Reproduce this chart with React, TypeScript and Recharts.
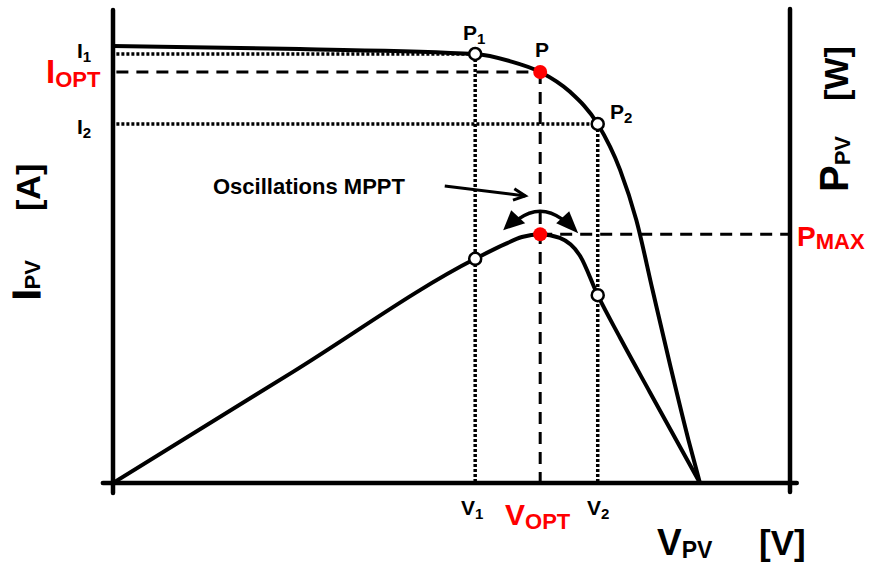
import React from 'react';
import { LineChart, Line, XAxis, YAxis, ReferenceLine, ReferenceDot, Customized } from 'recharts';

// I-V characteristic (voltage in % of axis, current in % of axis)
const ivVoltage = [0, 27.6, 53.5, 58.6, 63.1, 67.5, 71.6, 74.9, 77.3, 79.7, 82.3, 85.0, 86.7];
const ivCurrent = [92.4, 91.75, 90.7, 89.2, 86.9, 82.7, 75.9, 66.2, 55.6, 40.8, 24.9, 9.1, 0];
// P-V characteristic
const pvVoltage = [0, 26.7, 53.5, 57.9, 60.4, 63.1, 66.0, 69.0, 71.6, 74.9, 79.3, 86.7];
const pvPower = [0, 23.6, 47.4, 50.5, 52.0, 52.6, 51.8, 48.0, 39.7, 30.7, 19.2, 0];

// operating points
const V1 = 53.5;
const VOPT = 63.1;
const V2 = 71.6;
const I1 = 90.7;
const IOPT = 86.9;
const I2 = 75.9;
const PV1 = 47.4;
const PMAX = 52.6;
const PV2 = 39.7;

// oscillation annotation arrow (data coords)
const arrowFrom = { x: 49.0, y: 62.8 };
const arrowTo = { x: 60.9, y: 60.7 };

const ivData = ivVoltage.map((v, i) => ({ v, val: ivCurrent[i] }));
const pvData = pvVoltage.map((v, i) => ({ v, val: pvPower[i] }));

const FONT = 'Liberation Sans, Arial, Helvetica, sans-serif';
const RED = '#ff0000';
const DOT = '3 2';
const DASH = '12 8';

const ArrowShape = (p: any) => {
  const { x1, y1, x2, y2 } = p;
  const ang = Math.atan2(y2 - y1, x2 - x1);
  const L = 13;
  const a1 = ang + Math.PI - 0.45;
  const a2 = ang + Math.PI + 0.45;
  return (
    <g>
      <line x1={x1} y1={y1} x2={x2} y2={y2} stroke="#000" strokeWidth={3} />
      <polyline
        points={`${x2 + L * Math.cos(a1)},${y2 + L * Math.sin(a1)} ${x2},${y2} ${x2 + L * Math.cos(a2)},${y2 + L * Math.sin(a2)}`}
        fill="none"
        stroke="#000"
        strokeWidth={3}
        strokeLinejoin="miter"
      />
    </g>
  );
};

const OscShape = (p: any) => {
  const { cx, cy } = p;
  return (
    <g>
      <path d={`M ${cx - 22} ${cy - 15} Q ${cx} ${cy - 31} ${cx + 22} ${cy - 15}`} fill="none" stroke="#000" strokeWidth={3.5} />
      <polygon points={`${cx - 37},${cy - 4} ${cx - 29},${cy - 24} ${cx - 15},${cy - 11}`} fill="#000" />
      <polygon points={`${cx + 38},${cy - 1} ${cx + 29},${cy - 23} ${cx + 16},${cy - 11}`} fill="#000" />
      <circle cx={cx} cy={cy} r={7} fill={RED} />
    </g>
  );
};

const Labels = () => (
  <g fontFamily={FONT} fontWeight="bold">
    <text x={77} y={58} fontSize={21} fill="#000">I<tspan fontSize={15} dy={4}>1</tspan></text>
    <text x={46} y={83} fontSize={33} fill={RED}>I<tspan fontSize={22} dy={4}>OPT</tspan></text>
    <text x={77} y={134} fontSize={21} fill="#000">I<tspan fontSize={15} dy={4}>2</tspan></text>

    <text x={463} y={40} fontSize={21} fill="#000">P<tspan fontSize={15} dy={4}>1</tspan></text>
    <text x={535} y={57} fontSize={21} fill="#000">P</text>
    <text x={610} y={119} fontSize={21} fill="#000">P<tspan fontSize={15} dy={4}>2</tspan></text>

    <text x={213} y={194} fontSize={22} fill="#000">Oscillations MPPT</text>

    <text x={797} y={246} fontSize={28} fill={RED}>P<tspan fontSize={22} dy={3}>MAX</tspan></text>

    <text x={461} y={515} fontSize={21} fill="#000">V<tspan fontSize={15} dy={4}>1</tspan></text>
    <text x={505} y={525} fontSize={30} fill={RED}>V<tspan fontSize={22} dy={4}>OPT</tspan></text>
    <text x={587} y={515} fontSize={21} fill="#000">V<tspan fontSize={15} dy={4}>2</tspan></text>

    <text x={657} y={555} fontSize={37} fill="#000">V<tspan fontSize={23} dy={3}>PV</tspan></text>
    <text x={759} y={555} fontSize={35} fill="#000">[V]</text>

    <text transform="translate(848,192) rotate(-90)" fontSize={40} fill="#000">P<tspan fontSize={22} dy={2}>PV</tspan></text>
    <text transform="translate(848,101) rotate(-90)" fontSize={34} fill="#000">[W]</text>

    <text transform="translate(40,300) rotate(-90)" fontSize={38} fill="#000" stroke="#000" strokeWidth={1}>I<tspan fontSize={22} dy={0} strokeWidth={0}>PV</tspan></text>
    <text transform="translate(40,211) rotate(-90)" fontSize={34} fill="#000">[A]</text>
  </g>
);

export default function App() {
  return (
    <div style={{ position: 'absolute', left: 0, top: 0, width: 869, height: 567, background: '#fff' }}>
      <LineChart width={869} height={567} margin={{ top: 10, right: 79, bottom: 84, left: 113 }}>
        <XAxis type="number" dataKey="v" domain={[0, 100]} hide allowDataOverflow />
        <YAxis type="number" dataKey="val" domain={[0, 100]} hide allowDataOverflow />

        {/* axes */}
        <ReferenceLine segment={[{ x: 0, y: 100 }, { x: 0, y: -2.1 }]} stroke="#000" strokeWidth={4.5} strokeLinecap="round" ifOverflow="visible" />
        <ReferenceLine segment={[{ x: -1.5, y: 0 }, { x: 101, y: 0 }]} stroke="#000" strokeWidth={4.5} strokeLinecap="round" ifOverflow="visible" />
        <ReferenceLine segment={[{ x: 100, y: 100.2 }, { x: 100, y: -1.9 }]} stroke="#000" strokeWidth={4.5} strokeLinecap="round" ifOverflow="visible" />

        {/* guide lines */}
        <ReferenceLine segment={[{ x: 0.5, y: I1 }, { x: V1, y: I1 }]} stroke="#000" strokeWidth={3.5} strokeDasharray={DOT} />
        <ReferenceLine segment={[{ x: 0.5, y: IOPT }, { x: VOPT, y: IOPT }]} stroke="#000" strokeWidth={3} strokeDasharray={DASH} />
        <ReferenceLine segment={[{ x: 0.5, y: I2 }, { x: V2, y: I2 }]} stroke="#000" strokeWidth={3.5} strokeDasharray={DOT} />
        <ReferenceLine segment={[{ x: V1, y: I1 }, { x: V1, y: 0 }]} stroke="#000" strokeWidth={3.5} strokeDasharray={DOT} />
        <ReferenceLine segment={[{ x: VOPT, y: IOPT }, { x: VOPT, y: 0 }]} stroke="#000" strokeWidth={3} strokeDasharray={DASH} />
        <ReferenceLine segment={[{ x: V2, y: I2 }, { x: V2, y: 0 }]} stroke="#000" strokeWidth={3.5} strokeDasharray={DOT} />
        <ReferenceLine segment={[{ x: VOPT, y: PMAX }, { x: 100, y: PMAX }]} stroke="#000" strokeWidth={3} strokeDasharray={DASH} />

        <Line data={ivData} dataKey="val" type="monotone" stroke="#000" strokeWidth={4} dot={false} isAnimationActive={false} />
        <Line data={pvData} dataKey="val" type="monotone" stroke="#000" strokeWidth={4} dot={false} isAnimationActive={false} />

        <ReferenceLine segment={[arrowFrom, arrowTo]} stroke="#000" shape={ArrowShape} />

        <ReferenceDot x={V1} y={I1} r={6} fill="#fff" stroke="#000" strokeWidth={2.5} />
        <ReferenceDot x={VOPT} y={IOPT} r={7} fill={RED} stroke="none" />
        <ReferenceDot x={V2} y={I2} r={6} fill="#fff" stroke="#000" strokeWidth={2.5} />
        <ReferenceDot x={V1} y={PV1} r={6} fill="#fff" stroke="#000" strokeWidth={2.5} />
        <ReferenceDot x={V2} y={PV2} r={6} fill="#fff" stroke="#000" strokeWidth={2.5} />
        <ReferenceDot x={VOPT} y={PMAX} r={7} fill={RED} stroke="none" shape={OscShape} />

        <Customized component={Labels} />
      </LineChart>
    </div>
  );
}
